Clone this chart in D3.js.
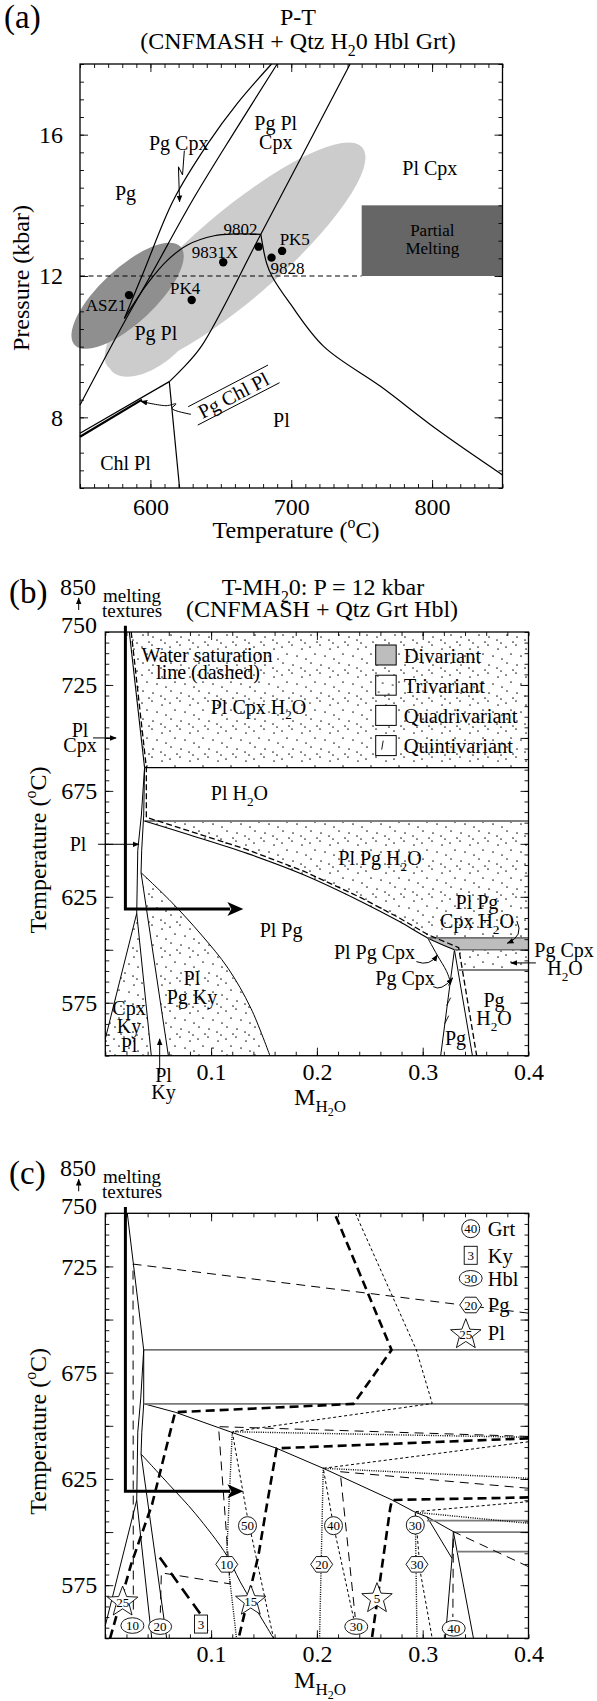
<!DOCTYPE html>
<html>
<head>
<meta charset="utf-8">
<script src="https://cdn.jsdelivr.net/npm/d3@7"></script>
<style>
  body { margin: 0; background: #fff; }
  svg { display: block; }
  text { font-family: "Liberation Serif", "Times New Roman", serif; fill: #000; }
</style>
</head>
<body>
<div class="chart"></div>
<script>
// ================= Panel (a): P-T =================
var tempTicks = [600, 700, 800];
var presTicks = [8, 12, 16];

// boundaries as [T (C), P (kbar)]
var bndLb = [[550, 8.35], [581.5, 10.7], [600, 12.0], [630, 14.15], [660, 16.1], [690, 18]];
var bndLa = [[581.5, 10.8], [595, 12.1], [616.4, 14.15], [641, 15.76], [662, 16.9], [686, 18]];
var bndC = [[581.5, 10.8], [598, 11.79], [612.2, 12.45], [626.4, 12.88], [645.3, 13.14], [660, 13.19], [678.4, 13.18]];
var bndD = [[741.8, 18], [678.4, 13.18], [636, 10.0], [622, 9.35], [613.4, 9.01]];
var bndE = [[678.4, 13.18], [682.5, 12.36], [686.5, 11.98], [699, 11.23], [723.2, 10.0], [763.6, 8.87], [804, 7.64], [850, 6.37]];
var bndF = [[613.4, 9.01], [620.7, 6.0]];
var bndG = [[550, 7.55], [613.4, 9.01]];
var bndG2 = [[550, 7.45], [594, 8.5]];
var p12Line = [[550, 12], [750, 12]];
var meltBox = [[750, 12], [850, 14]];

// shaded P-T estimates: centre, end of long axis, short/long ratio
var ellLight = [[660.1, 12.54], [750.5, 15.64]];
var ellLightRatio = 0.26;
var ellLobe = [[601.1, 10.24], [630.2, 11.15]];
var ellLobeRatio = 0.52;
var ellDark = [[583.8, 11.44], [621.4, 12.83]];
var ellDarkRatio = 0.38;

var sampleNames = ["9802", "9831X", "PK5", "9828", "PK4", "ASZ1"];
var sampleT = [676.8, 651.7, 693.5, 686, 629.3, 584.8];
var sampleP = [12.83, 12.39, 12.71, 12.52, 11.32, 11.46];
var sampleLabT = [664, 645.7, 702.5, 697.3, 624.6, 568.5];
var sampleLabP = [13.32, 12.69, 13.04, 12.22, 11.65, 11.18];

var fieldsA = [["Pg Pl", 689, 16.32], ["Cpx", 689, 15.8], ["Pg Cpx", 620.1, 15.76], ["Pg", 582.3, 14.34],
  ["Pl Cpx", 798.4, 15.05], ["Pg Pl", 603.9, 10.38], ["Pl", 693, 7.92], ["Chl Pl", 582.3, 6.7]];
var arrowPgCpx = [[624.1, 15.55], [622.8, 14.86], [619.9, 15.09], [620.7, 14.1]];
var arrowPgChl = [[628.8, 8.085], [615.3, 8.25], [618.2, 8.38], [611.1, 8.33], [593.3, 8.45]];
var pgChlUpper = [[626.8, 8.3], [683.5, 9.48]];
var pgChlLower = [[633.6, 7.78], [691.7, 8.98]];
var pgChlLabel = [658.9, 8.63];

// ================= Panel (b): T-M(H2O) =================
var mTicks = [0.1, 0.2, 0.3, 0.4];
var tTicks = [575, 625, 675, 725];

// boundaries as [M(H2O), T (C)]
var bB1 = [[0.0227, 750], [0.0371, 686]];
var bB2 = [[0.0371, 686], [0.0341, 663.6], [0.0307, 647], [0.0297, 617.2]];
var bB3 = [[0.0371, 686], [0.0363, 663.6], [0.0344, 647], [0.0338, 636.4]];
var bB4 = [[0.0371, 686], [0.4, 686]];
var bB5 = [[0.037, 660.8], [0.4, 660.8]];
var bBcurve = [[0.037, 660.8], [0.08, 654.2], [0.134, 645.5], [0.188, 635.3], [0.242, 622.7], [0.278, 613.3], [0.3047, 605.6], [0.33, 600]];
var bBky = [[0.0338, 636.4], [0.0622, 622.7], [0.0909, 607], [0.116, 591.3], [0.1376, 572.4], [0.1556, 550]];
var bB8 = [[0.0338, 636.4], [0.0596, 550]];
var bB9 = [[0.0297, 617.2], [0, 558]];
var bB10 = [[0.0297, 617.2], [0.0435, 550]];
var bB11 = [[0.33, 600], [0.317, 550]];
var bB12 = [[0.33, 600], [0.347, 550]];
var bBcpx = [[0.3047, 605.6], [0.3137, 597.5], [0.3227, 589.7], [0.3261, 585]];
var bBband = [[0.3047, 605.6], [0.4, 605.6], [0.4, 600], [0.33, 600]];
var bB590 = [[0.3338, 590.5], [0.4, 590.5]];
var waterLine = [[0.0245, 750], [0.0388, 686], [0.0388, 662.5], [0.08, 656], [0.134, 647.3], [0.188, 637],
  [0.242, 624.5], [0.278, 615], [0.3047, 607.2], [0.334, 601], [0.351, 550]];
var quintTicks = [[0.3245, 575.5], [0.3227, 567], [0.3262, 585]];

var triA = [[0.0227, 750], [0.4, 750], [0.4, 686], [0.0371, 686]];
var triB = [[0.037, 660.8], [0.4, 660.8], [0.4, 605.6], [0.3047, 605.6], [0.278, 613.3], [0.242, 622.7],
  [0.188, 635.3], [0.134, 645.5], [0.08, 654.2]];
var triC = [[0.33, 600], [0.4, 600], [0.4, 590.5], [0.3338, 590.5]];
var triD = [[0.0338, 636.4], [0.0622, 622.7], [0.0909, 607], [0.116, 591.3], [0.1376, 572.4], [0.1556, 550], [0.0596, 550]];
var triE = [[0.0297, 617.2], [0, 558], [0, 550], [0.0435, 550]];

var meltPath = [[0.019, 753], [0.019, 619.2], [0.118, 619.2]];
var meltTip = [0.1305, 619.2];

var fieldsB = [["Water saturation", 0.0961, 739.1], ["line (dashed)", 0.0971, 731.3], ["Pl Cpx H_2O", 0.1448, 714.7],
  ["Pl H_2O", 0.1268, 674], ["Pl Pg H_2O", 0.2596, 643.3], ["Pl Pg", 0.1661, 609.3], ["Pl Pg", 0.3513, 622.5],
  ["Cpx H_2O", 0.3513, 613.6], ["Pl Pg Cpx", 0.2544, 599.1], ["Pg Cpx", 0.2833, 586.7], ["Pl", 0.0819, 586.7],
  ["Pg Ky", 0.0819, 577.9], ["Cpx", 0.0224, 572.5], ["Ky", 0.0224, 564.2], ["Pl", 0.0224, 555.1],
  ["Pg", 0.3674, 576.3], ["H_2O", 0.3674, 567.8], ["Pg", 0.331, 558.4], ["Pl", 0.055, 540.9], ["Ky", 0.055, 532.9],
  ["Pl", -0.0258, 649.8], ["Pl", -0.0239, 703.7], ["Cpx", -0.0239, 696.7], ["Pg Cpx", 0.4336, 599.9], ["H_2O", 0.4345, 591.4]];
var arrowsB = [[[-0.0116, 700], [0.0102, 700]], [[-0.0068, 649.8], [0.0317, 649.8]],
  [[0.407, 593.8], [0.3835, 593.8]], [[0.0514, 541.5], [0.0514, 557.9]]];
var curvedArrowsB = [[[0.389, 613.6], [0.396, 606.5], [0.38, 603.1]],
  [[0.294, 594.4], [0.3066, 592], [0.3138, 597.5]],
  [[0.31, 582.6], [0.3173, 580.2], [0.3282, 586.5]]];
var legendB = ["Divariant", "Trivariant", "Quadrivariant", "Quintivariant"];

// ================= Panel (c): isopleths =================
var solidC = [
  [[0.0208, 750], [0.0363, 685.7]],
  [[0.0363, 685.7], [0.0363, 660.3], [0.0345, 647], [0.0338, 636.7]],
  [[0.0363, 685.7], [0.0335, 663], [0.0307, 647], [0.0297, 615]],
  [[0.0338, 636.7], [0.058, 550]],
  [[0.0297, 615], [0, 556]],
  [[0.0297, 615], [0.0439, 550]],
  [[0.304, 607.2], [0.3277, 587.6], [0.3214, 550]],
  [[0.329, 600.2], [0.3277, 587.6]],
  [[0.329, 600.2], [0.3324, 591.1], [0.348, 550]]
];
var curveC1 = [[0.0369, 660.3], [0.066, 656.4], [0.118, 647.2], [0.162, 639.4], [0.206, 630], [0.271, 615.1],
  [0.293, 609.3], [0.304, 607.2], [0.329, 600.2]];
var curveC2 = [[0.0338, 636.7], [0.06, 622.5], [0.0849, 608.8], [0.1148, 589], [0.1275, 576.6], [0.159, 550]];
var flatC = [[[0.0363, 685.7], [0.4, 685.7]], [[0.0369, 660.3], [0.4, 660.3]], [[0.304, 605.4], [0.4, 605.4]],
  [[0.329, 600], [0.4, 600]], [[0.3324, 590.8], [0.4, 590.8]]];

var plIso = [
  [[0.0045, 550], [0.0244, 584.8], [0.0442, 613], [0.066, 656.4], [0.2346, 660.3], [0.2706, 685.7], [0.2167, 750]],
  [[0.4, 644.1], [0.162, 639.4], [0.1527, 612.7], [0.1448, 589.2], [0.126, 550]],
  [[0.4, 616.3], [0.271, 615.1], [0.2693, 611.2], [0.252, 550]]
];
var kyIso = [[[0.0515, 588], [0.0905, 561], [0.099, 550]]];
var hblIso = [
  [[0.4, 703], [0.0262, 726.1], [0.0265, 561]],
  [[0.4, 645], [0.107, 649.6], [0.118, 575.6], [0.053, 580.8], [0.052, 562]],
  [[0.4, 620.6], [0.222, 628.4], [0.2362, 560]],
  [[0.4, 583.7], [0.329, 600.2], [0.3285, 560]]
];
var grtIso = [
  [[0.2364, 750], [0.294, 685.7], [0.309, 660.5], [0.12, 647.2], [0.1337, 608.8], [0.159, 550]],
  [[0.4, 642.5], [0.206, 630], [0.2157, 603], [0.2347, 559.4]],
  [[0.4, 614.3], [0.293, 609.6], [0.2977, 581.3], [0.309, 550]]
];
var pgIso = [
  [[0.4, 644.6], [0.12, 647.2], [0.1148, 590], [0.124, 550]],
  [[0.4, 625.3], [0.206, 630], [0.2025, 550]],
  [[0.4, 604.1], [0.293, 609.3], [0.2946, 550]]
];
var grtMarks = [[50, 0.1344, 603], [40, 0.2157, 603], [30, 0.293, 603.3]];
var hblMarks = [[10, 0.0256, 556], [20, 0.0518, 555.5], [30, 0.2372, 555.5], [40, 0.3293, 554.7]];
var kyMarks = [[3, 0.0905, 556.7]];
var pgMarks = [[10, 0.1148, 584.8], [20, 0.2045, 584.8], [30, 0.2946, 584.8]];
var plMarks = [[25, 0.0164, 568], [15, 0.1375, 568.4], [5, 0.2568, 569.6]];
var legendC = [["circle", "40", "Grt"], ["square", "3", "Ky"], ["oval", "30", "Hbl"], ["hexagon", "20", "Pg"], ["star", "25", "Pl"]];

// dot texture for trivariant fields
var dotTile = [[2, 3], [12, 1], [22, 5], [7, 10], [17, 12], [26, 15], [3, 19], [13, 21], [21, 24], [9, 26], [25, 27]];

// ---------------- scales ----------------
var xA = d3.scaleLinear().domain([550, 850]).range([80, 502.5]);
var yA = d3.scaleLinear().domain([6, 18]).range([488, 64]);
var xB = d3.scaleLinear().domain([0, 0.4]).range([105.3, 528.5]);
var yB = d3.scaleLinear().domain([550, 750]).range([1055.7, 632]);
var yC = d3.scaleLinear().domain([550, 750]).range([1638.3, 1213.3]);

var svg = d3.select(".chart").append("svg")
  .attr("width", 597)
  .attr("height", 1701);

var defs = svg.append("defs");
var pat = defs.append("pattern")
  .attr("id", "dots")
  .attr("width", 28).attr("height", 28)
  .attr("patternUnits", "userSpaceOnUse");
pat.append("rect").attr("width", 28).attr("height", 28).attr("fill", "#fff");
dotTile.forEach(function(d) {
  pat.append("circle").attr("cx", d[0]).attr("cy", d[1]).attr("r", 0.85).attr("fill", "#222");
});
defs.append("marker")
  .attr("id", "ah")
  .attr("viewBox", "0 0 10 10")
  .attr("refX", 9).attr("refY", 5)
  .attr("markerWidth", 7).attr("markerHeight", 7)
  .attr("orient", "auto")
  .append("path").attr("d", "M0,1L10,5L0,9Z").attr("fill", "#000");

// text with _x subscripts and ^x superscripts
function richText(g, str, x, y, size, anchor) {
  var t = g.append("text").attr("x", x).attr("y", y)
    .attr("font-size", size).attr("text-anchor", anchor || "middle");
  var buf = "", pend = 0;
  function flush() {
    if (!buf) return;
    var s = t.append("tspan").text(buf);
    if (pend) { s.attr("dy", pend); pend = 0; }
    buf = "";
  }
  for (var i = 0; i < str.length; i++) {
    var c = str[i];
    if ((c === "_" || c === "^") && i + 1 < str.length) {
      flush();
      var d = c === "_" ? size * 0.28 : -size * 0.4;
      t.append("tspan").attr("dy", pend + d).attr("font-size", size * 0.66).text(str[i + 1]);
      pend = -d;
      i++;
    } else {
      buf += c;
    }
  }
  flush();
  return t;
}

// centred label
function label(g, str, x, y, size) {
  return richText(g, str, x, y + size * 0.35, size, "middle");
}

function path(g, pts, x, y, w, dash, color, smooth) {
  var gen = d3.line().x(d => x(d[0])).y(d => y(d[1]));
  if (smooth) gen.curve(d3.curveCatmullRom.alpha(0.5));
  var p = g.append("path").attr("d", gen(pts))
    .attr("fill", "none")
    .attr("stroke", color || "#000")
    .attr("stroke-width", w)
    .attr("stroke-linejoin", "round");
  if (dash) p.attr("stroke-dasharray", dash);
  return p;
}

function poly(g, pts, x, y, fill) {
  var gen = d3.line().x(d => x(d[0])).y(d => y(d[1]));
  return g.append("path").attr("d", gen(pts) + "Z").attr("fill", fill).attr("stroke", "none");
}

// frame with inward ticks on four sides
function frame(g, x, y, xMinor, xMajor, yMinor, yMajor, xLab, yLab, xFmt, xPad, yPad) {
  var x0 = x.range()[0], x1 = x.range()[1], yb = y.range()[0], yt = y.range()[1];
  function strip(sel) {
    sel.select(".domain").remove();
    sel.selectAll("line").attr("stroke-width", 0.9);
    return sel;
  }
  strip(g.append("g").attr("transform", `translate(0,${yb})`)
    .call(d3.axisBottom(x).tickValues(xMinor).tickSize(-4).tickFormat("")));
  strip(g.append("g").attr("transform", `translate(0,${yb})`)
    .call(d3.axisBottom(x).tickValues(xMajor).tickSize(-8).tickFormat("")));
  strip(g.append("g").attr("transform", `translate(0,${yt})`)
    .call(d3.axisTop(x).tickValues(xMinor).tickSize(-4).tickFormat("")));
  strip(g.append("g").attr("transform", `translate(0,${yt})`)
    .call(d3.axisTop(x).tickValues(xMajor).tickSize(-8).tickFormat("")));
  strip(g.append("g").attr("transform", `translate(${x0},0)`)
    .call(d3.axisLeft(y).tickValues(yMinor).tickSize(-4).tickFormat("")));
  strip(g.append("g").attr("transform", `translate(${x0},0)`)
    .call(d3.axisLeft(y).tickValues(yMajor).tickSize(-8).tickFormat("")));
  strip(g.append("g").attr("transform", `translate(${x1},0)`)
    .call(d3.axisRight(y).tickValues(yMinor).tickSize(-4).tickFormat("")));
  strip(g.append("g").attr("transform", `translate(${x1},0)`)
    .call(d3.axisRight(y).tickValues(yMajor).tickSize(-8).tickFormat("")));

  var bx = g.append("g").attr("transform", `translate(0,${yb})`)
    .call(d3.axisBottom(x).tickValues(xLab).tickSize(0).tickPadding(xPad).tickFormat(xFmt));
  bx.select(".domain").remove();
  bx.attr("font-size", 24).attr("font-family", "Liberation Serif, serif");
  var ly = g.append("g").attr("transform", `translate(${x0},0)`)
    .call(d3.axisLeft(y).tickValues(yLab).tickSize(0).tickPadding(yPad));
  ly.select(".domain").remove();
  ly.attr("font-size", 24).attr("font-family", "Liberation Serif, serif");

  g.append("rect")
    .attr("x", x0).attr("y", yt)
    .attr("width", x1 - x0).attr("height", yb - yt)
    .attr("fill", "none").attr("stroke", "#000").attr("stroke-width", 1.3);
}

function ellipse(g, e, ratio, fill) {
  var cx = xA(e[0][0]), cy = yA(e[0][1]);
  var tx = xA(e[1][0]), ty = yA(e[1][1]);
  var a = Math.hypot(tx - cx, ty - cy);
  var ang = Math.atan2(ty - cy, tx - cx) * 180 / Math.PI;
  g.append("ellipse")
    .attr("cx", cx).attr("cy", cy)
    .attr("rx", a).attr("ry", a * ratio)
    .attr("transform", `rotate(${ang},${cx},${cy})`)
    .attr("fill", fill);
}

// ======================= draw (a) =======================
var gA = svg.append("g");
ellipse(gA, ellLight, ellLightRatio, "#cccccc");
ellipse(gA, ellLobe, ellLobeRatio, "#cccccc");
ellipse(gA, ellDark, ellDarkRatio, "#8f8f8f");

gA.append("rect")
  .attr("x", xA(meltBox[0][0])).attr("y", yA(meltBox[1][1]))
  .attr("width", xA(meltBox[1][0]) - xA(meltBox[0][0]))
  .attr("height", yA(meltBox[0][1]) - yA(meltBox[1][1]))
  .attr("fill", "#666");
label(gA, "Partial", xA(800.2), yA(13.3), 17).attr("fill", "#1a1a1a");
label(gA, "Melting", xA(800.2), yA(12.78), 17).attr("fill", "#1a1a1a");

path(gA, p12Line, xA, yA, 1, "5,3.5");
path(gA, bndLb, xA, yA, 1.2, null, "#000", true);
path(gA, bndLa, xA, yA, 1.2, null, "#000", true);
path(gA, bndC, xA, yA, 1.2, null, "#000", true);
path(gA, bndD, xA, yA, 1.2, null, "#000", true);
path(gA, bndE, xA, yA, 1.2, null, "#000", true);
path(gA, bndF, xA, yA, 1.2);
path(gA, bndG, xA, yA, 1.3);
path(gA, bndG2, xA, yA, 2.2);

path(gA, arrowPgCpx, xA, yA, 1).attr("marker-end", "url(#ah)");
path(gA, arrowPgChl, xA, yA, 1, null, "#000", true).attr("marker-end", "url(#ah)");
path(gA, pgChlUpper, xA, yA, 1);
path(gA, pgChlLower, xA, yA, 1);
gA.append("text")
  .attr("transform", `translate(${xA(pgChlLabel[0])},${yA(pgChlLabel[1])}) rotate(-27.5)`)
  .attr("y", 7).attr("text-anchor", "middle").attr("font-size", 20)
  .text("Pg Chl Pl");

gA.selectAll("circle.sample")
  .data(sampleNames)
  .enter()
  .append("circle")
  .attr("class", "sample")
  .attr("cx", (d, i) => xA(sampleT[i]))
  .attr("cy", (d, i) => yA(sampleP[i]))
  .attr("r", 4.2)
  .attr("fill", "#000");
sampleNames.forEach(function(n, i) {
  label(gA, n, xA(sampleLabT[i]), yA(sampleLabP[i]), 17);
});
fieldsA.forEach(function(f) {
  label(gA, f[0], xA(f[1]), yA(f[2]), 20);
});

frame(gA, xA, yA, d3.range(550, 851, 10), tempTicks, d3.range(6, 18.01, 0.5), presTicks,
  tempTicks, presTicks, d3.format("d"), 10, 17);

richText(svg, "(a)", 4, 28, 33, "start");
richText(svg, "P-T", 298, 25, 24);
richText(svg, "(CNFMASH + Qtz H_20 Hbl Grt)", 298, 49, 24);
richText(svg, "Temperature (^oC)", 296, 538, 24);
richText(svg, "Pressure (kbar)", 0, 0, 24).attr("transform", "translate(29,278) rotate(-90)");

// ---------------- common pieces for (b), (c) ----------------
function tmTop(g, yS, letter) {
  var top = yS.range()[1];
  richText(g, "(" + letter + ")", 9, top - 29, 33, "start");
  richText(g, "850", 96, top - 37, 24, "end");
  richText(g, "750", 97, top + 0.5, 24, "end");
  g.append("line")
    .attr("x1", 78.7).attr("x2", 78.7)
    .attr("y1", top - 22).attr("y2", top - 34)
    .attr("stroke", "#000").attr("stroke-width", 1)
    .attr("marker-end", "url(#ah)");
  richText(g, "melting", 103, top - 30, 19, "start");
  richText(g, "textures", 102, top - 15, 19, "start");
}

function tmAxes(g, yS) {
  frame(g, xB, yS, d3.range(0, 0.401, 0.02), [0.1, 0.2, 0.3], d3.range(550, 750.1, 5), [575, 600, 625, 650, 675, 700, 725],
    mTicks, tTicks, d3.format(".1f"), 7, 8);
  var bottom = yS.range()[0];
  var t = g.append("text").attr("x", 320).attr("y", bottom + 49.4)
    .attr("font-size", 24).attr("text-anchor", "middle");
  t.append("tspan").text("M");
  t.append("tspan").attr("font-size", 17).attr("dy", 7).text("H");
  t.append("tspan").attr("font-size", 12).attr("dy", 4).text("2");
  t.append("tspan").attr("font-size", 17).attr("dy", -4).text("O");
  var mid = yS.range()[1] + 218;
  richText(g, "Temperature (^oC)", 0, 0, 24).attr("transform", `translate(46,${mid}) rotate(-90)`);
}

function meltArrow(g, yS) {
  path(g, meltPath, xB, yS, 3).attr("stroke-linejoin", "miter");
  var tx = xB(meltTip[0]), ty = yS(meltTip[1]);
  g.append("path")
    .attr("d", `M${tx},${ty}L${tx - 16},${ty - 7}L${tx - 12},${ty}L${tx - 16},${ty + 7}Z`)
    .attr("fill", "#000");
}

// ======================= draw (b) =======================
var gB = svg.append("g");
[triA, triB, triC, triD, triE].forEach(function(p) { poly(gB, p, xB, yB, "url(#dots)"); });
poly(gB, bBband, xB, yB, "#bdbdbd");

path(gB, bB1, xB, yB, 1.1);
path(gB, bB2, xB, yB, 1);
path(gB, bB3, xB, yB, 1);
path(gB, bB4, xB, yB, 1.1);
path(gB, bB5, xB, yB, 2, null, "#808080");
path(gB, bBcurve, xB, yB, 1.1, null, "#000", true);
path(gB, bBky, xB, yB, 1, null, "#000", true);
path(gB, bB8, xB, yB, 1);
path(gB, bB9, xB, yB, 1);
path(gB, bB10, xB, yB, 1);
path(gB, bB11, xB, yB, 1);
path(gB, bB12, xB, yB, 1);
path(gB, bBcpx, xB, yB, 1, null, "#000", true);
path(gB, [bBband[0], bBband[1]], xB, yB, 1.6, null, "#707070");
path(gB, [bBband[3], bBband[2]], xB, yB, 1.6, null, "#707070");
path(gB, bB590, xB, yB, 2, null, "#808080");
path(gB, waterLine, xB, yB, 1.3, "6,3", "#000", false);
quintTicks.forEach(function(q) {
  gB.append("line")
    .attr("x1", xB(q[0]) - 2).attr("y1", yB(q[1]) + 4)
    .attr("x2", xB(q[0]) + 2).attr("y2", yB(q[1]) - 4)
    .attr("stroke", "#000").attr("stroke-width", 0.9);
});

meltArrow(gB, yB);

arrowsB.forEach(function(a) { path(gB, a, xB, yB, 1).attr("marker-end", "url(#ah)"); });
curvedArrowsB.forEach(function(a) {
  gB.append("path")
    .attr("d", `M${xB(a[0][0])},${yB(a[0][1])}Q${xB(a[1][0])},${yB(a[1][1])} ${xB(a[2][0])},${yB(a[2][1])}`)
    .attr("fill", "none").attr("stroke", "#000").attr("stroke-width", 1)
    .attr("marker-end", "url(#ah)");
});
fieldsB.forEach(function(f) { label(gB, f[0], xB(f[1]), yB(f[2]), 20); });

// legend (b)
var lgB = gB.append("g").attr("transform", `translate(${xB(0) + 270.4},${yB(750) + 13})`);
legendB.forEach(function(name, i) {
  var fills = ["#bdbdbd", "url(#dots)", "#fff", "#fff"];
  lgB.append("rect")
    .attr("x", 0).attr("y", i * 30.2)
    .attr("width", 20.5).attr("height", 20)
    .attr("fill", fills[i]).attr("stroke", "#000").attr("stroke-width", 1);
  if (i === 3) {
    lgB.append("line")
      .attr("x1", 6).attr("y1", i * 30.2 + 14)
      .attr("x2", 7.5).attr("y2", i * 30.2 + 5)
      .attr("stroke", "#000").attr("stroke-width", 0.9);
  }
  richText(lgB, name, 28, i * 30.2 + 17.5, 20.5, "start");
});

tmAxes(gB, yB);
tmTop(svg, yB, "b");
richText(svg, "T-MH_20: P = 12 kbar", 323, 595, 24);
richText(svg, "(CNFMASH + Qtz Grt Hbl)", 322, 617, 24);

// ======================= draw (c) =======================
var gC = svg.append("g");
solidC.forEach(function(p) { path(gC, p, xB, yC, 1); });
path(gC, curveC1, xB, yC, 1);
path(gC, curveC2, xB, yC, 1, null, "#000", true);
flatC.forEach(function(p, i) {
  path(gC, p, xB, yC, i === 0 ? 1.3 : 1.8, null, i === 0 ? "#404040" : "#7a7a7a");
});
hblIso.forEach(function(p) { path(gC, p, xB, yC, 1, "9,6"); });
grtIso.forEach(function(p) { path(gC, p, xB, yC, 1, "3,2.5"); });
pgIso.forEach(function(p) { path(gC, p, xB, yC, 1.4, "1,1.3"); });
plIso.forEach(function(p) { path(gC, p, xB, yC, 2.6, "9,5"); });
kyIso.forEach(function(p) { path(gC, p, xB, yC, 2.6, "12,7"); });

meltArrow(gC, yC);

function marker(g, type, cx, cy, txt) {
  var s;
  if (type === "circle") {
    s = g.append("circle").attr("cx", cx).attr("cy", cy).attr("r", 9);
  } else if (type === "oval") {
    s = g.append("ellipse").attr("cx", cx).attr("cy", cy).attr("rx", 11.5).attr("ry", 7.8);
  } else if (type === "square") {
    s = g.append("rect").attr("x", cx - 6.5).attr("y", cy - 9).attr("width", 13).attr("height", 18);
  } else if (type === "hexagon") {
    var hp = d3.range(6).map(k => [cx + 11 * Math.cos(k * Math.PI / 3), cy + 9 * Math.sin(k * Math.PI / 3)]);
    s = g.append("path").attr("d", d3.line()(hp) + "Z");
  } else {
    var sp = d3.range(10).map(function(k) {
      var r = k % 2 ? 6.8 : 16;
      var a = -Math.PI / 2 + k * Math.PI / 5;
      return [cx + r * Math.cos(a), cy + 2 + r * Math.sin(a)];
    });
    s = g.append("path").attr("d", d3.line()(sp) + "Z");
  }
  s.attr("fill", "#fff").attr("stroke", "#000").attr("stroke-width", 0.9);
  g.append("text").attr("x", cx).attr("y", cy + 4.6 + (type === "star" ? 2 : 0))
    .attr("text-anchor", "middle").attr("font-size", 13).text(txt);
}

grtMarks.forEach(d => marker(gC, "circle", xB(d[1]), yC(d[2]), d[0]));
hblMarks.forEach(d => marker(gC, "oval", xB(d[1]), yC(d[2]), d[0]));
kyMarks.forEach(d => marker(gC, "square", xB(d[1]), yC(d[2]), d[0]));
pgMarks.forEach(d => marker(gC, "hexagon", xB(d[1]), yC(d[2]), d[0]));
plMarks.forEach(d => marker(gC, "star", xB(d[1]), yC(d[2]), d[0]));

// legend (c)
var lgC = gC.append("g").attr("transform", `translate(${xB(0)},${yC(750)})`);
var lgCy = [15.4, 42, 65, 91.7, 119.4];
legendC.forEach(function(d, i) {
  marker(lgC, d[0], d[0] === "star" ? 360.5 : 365.4, lgCy[i], d[1]);
  richText(lgC, d[2], 382.5, lgCy[i] + 7.5, 20.5, "start");
});

tmAxes(gC, yC);
tmTop(svg, yC, "c");
</script>
</body>
</html>
